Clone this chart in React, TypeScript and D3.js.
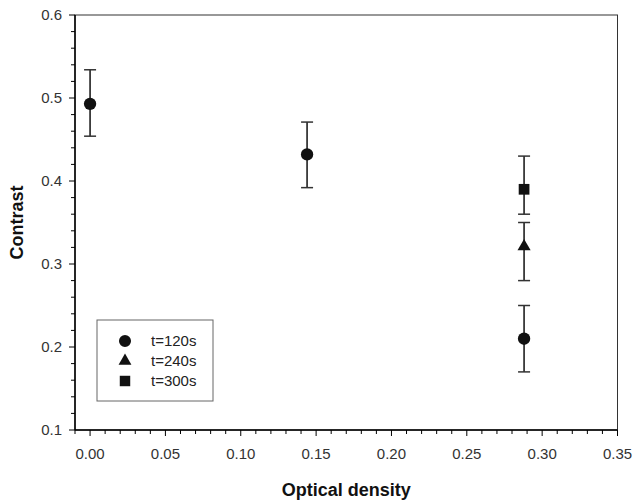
import React from "react";
import * as d3 from "d3";

// series: optical density vs contrast, error bars given as [low, high]
const seriesNames = ["t=120s", "t=240s", "t=300s"];
const seriesShapes = ["circle", "triangle", "square"];

const odT120 = [0.0, 0.144, 0.288];
const contrastT120 = [0.493, 0.432, 0.21];
const lowT120 = [0.454, 0.392, 0.17];
const highT120 = [0.534, 0.471, 0.25];

const odT240 = [0.288];
const contrastT240 = [0.321];
const lowT240 = [0.28];
const highT240 = [0.35];

const odT300 = [0.288];
const contrastT300 = [0.39];
const lowT300 = [0.36];
const highT300 = [0.43];

const xTickLabels = [0.0, 0.05, 0.1, 0.15, 0.2, 0.25, 0.3, 0.35];
const yTickLabels = [0.1, 0.2, 0.3, 0.4, 0.5, 0.6];

const W = 633, H = 502;
const margin = { top: 15, right: 15.5, bottom: 72, left: 75 };
const FONT = "'Liberation Sans', Arial, sans-serif";

const symbolFor = (shape: string, size: number) => {
  const t =
    shape === "circle" ? d3.symbolCircle : shape === "triangle" ? d3.symbolTriangle : d3.symbolSquare;
  return d3.symbol().type(t).size(size)()!;
};

export default function App() {
  document.body.style.margin = "0";
  const innerW = W - margin.left - margin.right;
  const innerH = H - margin.top - margin.bottom;

  const x = d3.scaleLinear().domain([-0.01, 0.35]).range([0, innerW]);
  const y = d3.scaleLinear().domain([0.1, 0.6]).range([innerH, 0]);

  const series = [
    { xs: odT120, ys: contrastT120, lo: lowT120, hi: highT120, shape: seriesShapes[0] },
    { xs: odT240, ys: contrastT240, lo: lowT240, hi: highT240, shape: seriesShapes[1] },
    { xs: odT300, ys: contrastT300, lo: lowT300, hi: highT300, shape: seriesShapes[2] },
  ];

  const xMinor = d3.range(-0.01, 0.3501, 0.01);
  const yMinor = d3.range(0.1, 0.6001, 0.02);
  const fmt2 = d3.format(".2f");
  const fmt1 = d3.format(".1f");
  const symSize: Record<string, number> = { circle: 120, triangle: 75, square: 115 };

  return (
    <svg width={W} height={H} style={{ display: "block", background: "#fff" }} fontFamily={FONT}>
      <g transform={`translate(${margin.left},${margin.top})`}>
        <rect x={0} y={0} width={innerW} height={innerH} fill="none" stroke="#333" strokeWidth={1} />
        <line x1={0} x2={0} y1={0} y2={innerH} stroke="#000" strokeWidth={1.5} />
        <line x1={0} x2={innerW} y1={innerH} y2={innerH} stroke="#000" strokeWidth={1.5} />

        {/* x ticks */}
        {xMinor.map((v, i) => {
          const major = xTickLabels.some((t) => Math.abs(t - v) < 1e-6);
          return (
            <line key={"xm" + i} x1={x(v)} x2={x(v)} y1={innerH} y2={innerH + (major ? 6 : 4)} stroke="#000" />
          );
        })}
        {xTickLabels.map((v) => (
          <text key={"xl" + v} x={x(v)} y={innerH + 29} textAnchor="middle" fontSize={15} fill="#333">
            {fmt2(v)}
          </text>
        ))}

        {/* y ticks */}
        {yMinor.map((v, i) => {
          const major = yTickLabels.some((t) => Math.abs(t - v) < 1e-6);
          return <line key={"ym" + i} x1={0} x2={major ? -6 : -4} y1={y(v)} y2={y(v)} stroke="#000" />;
        })}
        {yTickLabels.map((v) => (
          <text key={"yl" + v} x={-13} y={y(v) + 5} textAnchor="end" fontSize={15} fill="#333">
            {fmt1(v)}
          </text>
        ))}

        {/* error bars and markers */}
        {series.map((s, si) =>
          s.xs.map((xv, i) => (
            <g key={`p${si}-${i}`}>
              <line x1={x(xv)} x2={x(xv)} y1={y(s.lo[i])} y2={y(s.hi[i])} stroke="#111" strokeWidth={1.5} />
              <line x1={x(xv) - 6} x2={x(xv) + 6} y1={y(s.lo[i])} y2={y(s.lo[i])} stroke="#333" strokeWidth={1.5} />
              <line x1={x(xv) - 6} x2={x(xv) + 6} y1={y(s.hi[i])} y2={y(s.hi[i])} stroke="#333" strokeWidth={1.5} />
              <path
                d={symbolFor(s.shape, symSize[s.shape])}
                transform={`translate(${x(xv)},${y(s.ys[i])})`}
                fill="#111"
              />
            </g>
          ))
        )}

        {/* legend */}
        <g transform="translate(22,305)">
          <rect x={0} y={0} width={116} height={81} fill="#fff" stroke="#666" strokeWidth={1} />
          {seriesNames.map((name, i) => (
            <g key={name} transform={`translate(0,${21 + i * 20})`}>
              <path d={symbolFor(seriesShapes[i], symSize[seriesShapes[i]] * 0.95)} transform="translate(28,0)" fill="#111" />
              <text x={54} y={5} fontSize={15} fill="#222">
                {name}
              </text>
            </g>
          ))}
        </g>
      </g>

      <text x={margin.left + innerW / 2} y={496} textAnchor="middle" fontSize={18} fontWeight="bold" fill="#111">
        Optical density
      </text>
      <text
        transform={`translate(23,${margin.top + innerH / 2}) rotate(-90)`}
        textAnchor="middle"
        fontSize={18}
        fontWeight="bold"
        fill="#111"
      >
        Contrast
      </text>
    </svg>
  );
}
